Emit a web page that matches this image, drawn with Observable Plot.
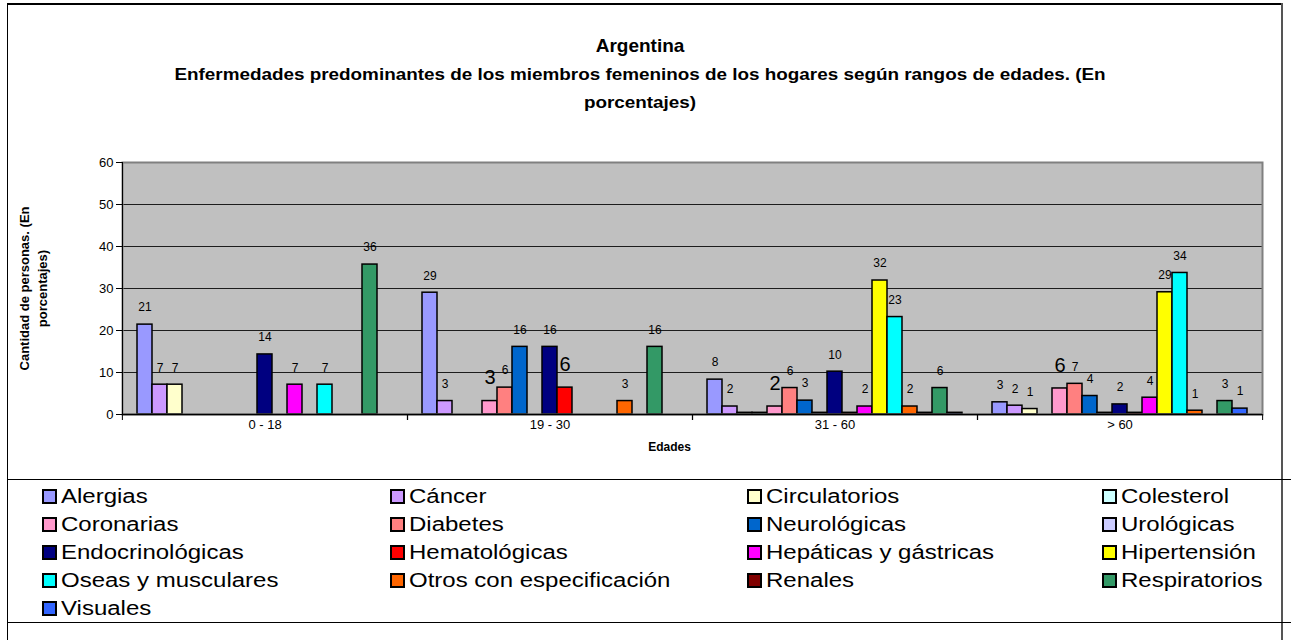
<!DOCTYPE html>
<html><head><meta charset="utf-8">
<script src="https://cdn.jsdelivr.net/npm/d3@7"></script>
<script src="https://cdn.jsdelivr.net/npm/@observablehq/plot@0.6"></script>
<style>
body{margin:0;background:#fff;font-family:"Liberation Sans",Arial,sans-serif;}
#page{position:relative;width:1291px;height:640px;overflow:hidden;background:#fff;}
.ln{position:absolute;background:#000;}
#title{position:absolute;left:0;width:1280px;top:34px;text-align:center;font-weight:bold;font-size:19px;line-height:24px;}
#subtitle{position:absolute;left:0;width:1280px;top:61px;text-align:center;font-weight:bold;font-size:17px;line-height:28px;transform:scaleX(1.11);transform-origin:640px 0;}
#chart{position:absolute;left:0;top:130px;}
.lg{position:absolute;height:28px;display:flex;align-items:center;font-size:20px;white-space:nowrap;}
.lg span{display:inline-block;transform:scaleX(1.2);transform-origin:0 50%;}
.sw{width:15px;height:15px;box-sizing:border-box;border:2px solid #000;margin-right:4px;}
</style></head><body><div id="page">
<div class="ln" style="left:7px;top:3px;width:1276px;height:2px"></div>
<div class="ln" style="left:7px;top:3px;width:1px;height:637px"></div>
<div class="ln" style="left:1281px;top:3px;width:2px;height:637px;background:#555"></div>
<div class="ln" style="left:7px;top:479px;width:1284px;height:1px"></div>
<div class="ln" style="left:7px;top:622px;width:1284px;height:1px"></div>
<div id="title"></div>
<div id="subtitle"></div>
<div id="chart"></div>
<div id="legend"></div>
</div>
<script>
const titleText = "Argentina";
const subtitleLines = ["Enfermedades predominantes de los miembros femeninos de los hogares según rangos de edades. (En", "porcentajes)"];
const yLabel = "Cantidad de personas. (En\nporcentajes)";
const xLabel = "Edades";
const ages = ["0 - 18", "19 - 30", "31 - 60", "> 60"];
const series = ["Alergias","Cáncer","Circulatorios","Colesterol","Coronarias","Diabetes","Neurológicas","Urológicas","Endocrinológicas","Hematológicas","Hepáticas y gástricas","Hipertensión","Oseas y musculares","Otros con especificación","Renales","Respiratorios","Visuales"];
const colors = ["#9999FF","#CC99FF","#FFFFCC","#CCFFFF","#FF99CC","#FF8080","#0066CC","#CCCCFF","#000080","#FF0000","#FF00FF","#FFFF00","#00FFFF","#FF6600","#800000","#339966","#3366FF"];
const v0_18  = [21.4, 7.1, 7.1, 0, 0, 0, 0, 0, 14.3, 0, 7.1, 0, 7.1, 0, 0, 35.7, 0];
const v19_30 = [29.0, 3.2, 0, 0, 3.2, 6.4, 16.1, 0, 16.1, 6.4, 0, 0, 0, 3.2, 0, 16.1, 0];
const v31_60 = [8.3, 1.9, 0.4, 0.4, 1.9, 6.3, 3.3, 0.4, 10.2, 0.4, 1.9, 31.9, 23.2, 1.9, 0.4, 6.3, 0.4];
const v60    = [2.9, 2.1, 1.3, 0, 6.2, 7.3, 4.4, 0.4, 2.4, 0.4, 4.0, 29.1, 33.7, 0.9, 0, 3.2, 1.4];
const yTicks = [0, 10, 20, 30, 40, 50, 60];
const bigLabels = [["19 - 30","Coronarias"],["19 - 30","Hematológicas"],["31 - 60","Coronarias"],["> 60","Coronarias"]];

document.getElementById("title").textContent = titleText;
document.getElementById("subtitle").innerHTML = subtitleLines.join("<br>");

const groupValues = [v0_18, v19_30, v31_60, v60];
const data = ages.flatMap((a, i) => series.map((s, j) => ({age: a, serie: s, value: groupValues[i][j]})));
const isBig = d => bigLabels.some(([a, s]) => a === d.age && s === d.serie);
const labeled = data.filter(d => d.value >= 0.5);

const W = 1291, mL = 121, mR = 29;
const fw = (W - mL - mR) / ages.length;

const chart = Plot.plot({
  width: W, height: 330, marginTop: 32, marginBottom: 46, marginLeft: mL, marginRight: mR,
  style: {fontFamily: "Liberation Sans, Arial, sans-serif", background: "transparent", overflow: "visible", color: "#000"},
  fx: {domain: ages, padding: 0, label: null},
  x: {domain: series, paddingInner: 0, paddingOuter: 0.7, axis: null},
  y: {domain: [0, 60]},
  color: {domain: series, range: colors},
  marks: [
    Plot.frame({fill: "#C0C0C0", facet: "super"}),
    Plot.gridY(yTicks.filter(t => t > 0 && t < 60), {stroke: "#000", strokeOpacity: 0.85}),
    Plot.barY(data, {fx: "age", x: "serie", y: "value", fill: "serie", stroke: "#000", strokeWidth: 1.5}),
    Plot.text(labeled.filter(d => !isBig(d)), {fx: "age", x: "serie", y: "value", text: d => String(Math.round(d.value)), dy: -17, fontSize: 12, fill: "#000"}),
    Plot.text(labeled.filter(isBig), {fx: "age", x: "serie", y: "value", text: d => String(Math.round(d.value)), dy: -23, fontSize: 20, fill: "#000"}),
    Plot.frame({stroke: "#808080", strokeWidth: 2, facet: "super"}),
    Plot.ruleY([0], {stroke: "#000", strokeWidth: 1.5}),
    Plot.frame({anchor: "left", stroke: "#000", facet: "super"}),
    Plot.axisY({ticks: yTicks, tickSize: 6, tickPadding: 3, fontSize: 13, label: null}),
    Plot.axisFx({anchor: "bottom", tickSize: 0, tickPadding: 5, fontSize: 13, label: null}),
    Plot.axisFx({anchor: "bottom", text: null, tickSize: 6, dx: -fw / 2, label: null}),
    Plot.axisFx({anchor: "bottom", text: null, tickSize: 6, dx: fw / 2, label: null}),
    Plot.text([yLabel], {frameAnchor: "left", dx: -90, rotate: -90, textAnchor: "middle", lineAnchor: "middle", fontWeight: "bold", fontSize: 13, lineHeight: 1.35, facet: "super", fill: "#000"}),
    Plot.text([xLabel], {frameAnchor: "bottom", dy: 36, dx: -23, fontWeight: "bold", fontSize: 12, facet: "super", fill: "#000"})
  ]
});
document.getElementById("chart").appendChild(chart);

const legend = document.getElementById("legend");
const colX = [42, 390, 747, 1102];
series.forEach((s, i) => {
  const col = i % 4, row = Math.floor(i / 4);
  const el = document.createElement("div");
  el.className = "lg";
  el.style.left = colX[col] + "px";
  el.style.top = (482 + row * 28) + "px";
  const sw = document.createElement("div");
  sw.className = "sw";
  sw.style.background = colors[i];
  const tx = document.createElement("span");
  tx.textContent = s;
  el.appendChild(sw); el.appendChild(tx);
  legend.appendChild(el);
});
</script>
</body></html>
